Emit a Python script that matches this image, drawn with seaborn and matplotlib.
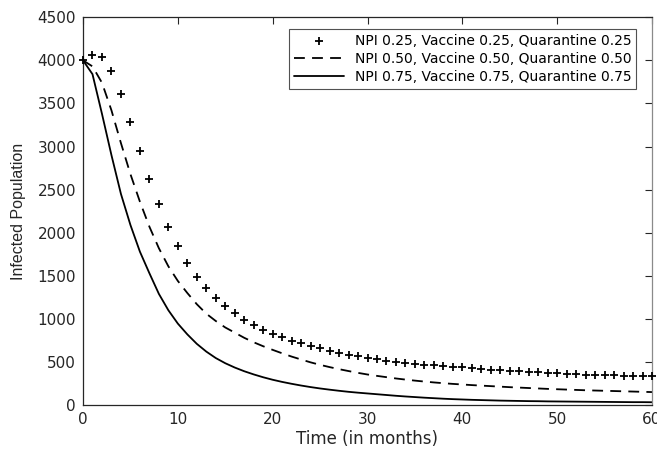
import numpy as np
import pandas as pd
import matplotlib
matplotlib.use("Agg")
import matplotlib.pyplot as plt
import seaborn as sns

# ---- data ----
months = list(range(0, 61))

npi_025 = [4000, 4060, 4045, 3878, 3612, 3285, 2947, 2620, 2328, 2065,
           1840, 1651, 1485, 1353, 1237, 1144, 1063, 990, 928, 874,
           825, 785, 748, 715, 685, 657, 630, 606, 585, 565,
           546, 530, 516, 503, 491, 480, 470, 461, 452, 444,
           437, 428, 419, 411, 403, 396, 390, 384, 378, 372,
           367, 362, 358, 354, 350, 346, 343, 340, 337, 334, 331]

npi_050 = [4000, 3930, 3740, 3420, 3040, 2680, 2360, 2070, 1820, 1610,
           1440, 1300, 1170, 1060, 975, 900, 840, 780, 728, 682,
           640, 600, 562, 528, 495, 466, 440, 416, 394, 373,
           354, 338, 323, 308, 295, 283, 272, 262, 253, 245,
           238, 231, 225, 219, 213, 207, 202, 197, 192, 187,
           183, 179, 175, 171, 168, 165, 162, 159, 156, 153, 150]

npi_075 = [4000, 3840, 3380, 2900, 2450, 2090, 1780, 1530, 1290, 1100,
           945, 820, 710, 620, 545, 485, 435, 392, 355, 322,
           293, 268, 246, 226, 208, 192, 178, 165, 153, 143,
           134, 125, 116, 107, 99, 92, 85, 79, 73, 68,
           64, 60, 57, 54, 51, 49, 47, 45, 44, 42,
           41, 40, 39, 38, 37, 36, 35, 34, 33, 33, 32]

labels = ["NPI 0.25, Vaccine 0.25, Quarantine 0.25",
          "NPI 0.50, Vaccine 0.50, Quarantine 0.50",
          "NPI 0.75, Vaccine 0.75, Quarantine 0.75"]

x_ticks = list(range(0, 61, 10))
y_ticks = list(range(0, 4501, 500))

df = pd.DataFrame({"t": months, "s1": npi_025, "s2": npi_050, "s3": npi_075})

sns.set_theme(style="white")
plt.rcParams["font.family"] = ["DejaVu Sans"]

fig = plt.figure(figsize=(6.57, 4.54), dpi=100)
ax = fig.add_axes([83 / 657, (454 - 405) / 454, (652 - 83) / 657, (405 - 17.3) / 454])

sns.scatterplot(data=df, x="t", y="s1", ax=ax, color="black", marker="+",
                s=40, linewidth=1.3, label=labels[0], zorder=3, clip_on=False)
sns.lineplot(data=df, x="t", y="s2", ax=ax, color="black", linewidth=1.3,
             label=labels[1])
ax.lines[-1].set_dashes([6, 4])
sns.lineplot(data=df, x="t", y="s3", ax=ax, color="black", linewidth=1.3,
             label=labels[2])

ax.set_xlim(0, 60)
ax.set_ylim(0, 4500)
ax.set_xticks(x_ticks)
ax.set_yticks(y_ticks)
ax.tick_params(direction="in", length=5, width=0.8, top=True, right=True,
               labelsize=11, colors="#262626", pad=5)
for s in ax.spines.values():
    s.set_color("#262626")
    s.set_linewidth(0.9)
ax.spines["right"].set_color("#8a8a8a")

ax.set_xlabel("Time (in months)", fontsize=12, color="#262626", labelpad=2)
ax.set_ylabel("Infected Population", fontsize=11.5, color="#262626", labelpad=8,
              family=["Liberation Sans", "DejaVu Sans"])

leg = ax.legend(loc="upper right", bbox_to_anchor=(0.972, 0.97), fontsize=10,
                frameon=True, fancybox=False, handlelength=3.6,
                borderpad=0.35, labelspacing=0.3, handletextpad=0.75,
                borderaxespad=0, scatterpoints=1)
leg.get_frame().set_edgecolor("#262626")
leg.get_frame().set_linewidth(0.8)
for t in leg.get_texts():
    t.set_color("black")
leg_lines = leg.get_lines()
if len(leg_lines) >= 2:
    leg_lines[0].set_dashes([6, 4])

fig.savefig("out.png", dpi=100)
